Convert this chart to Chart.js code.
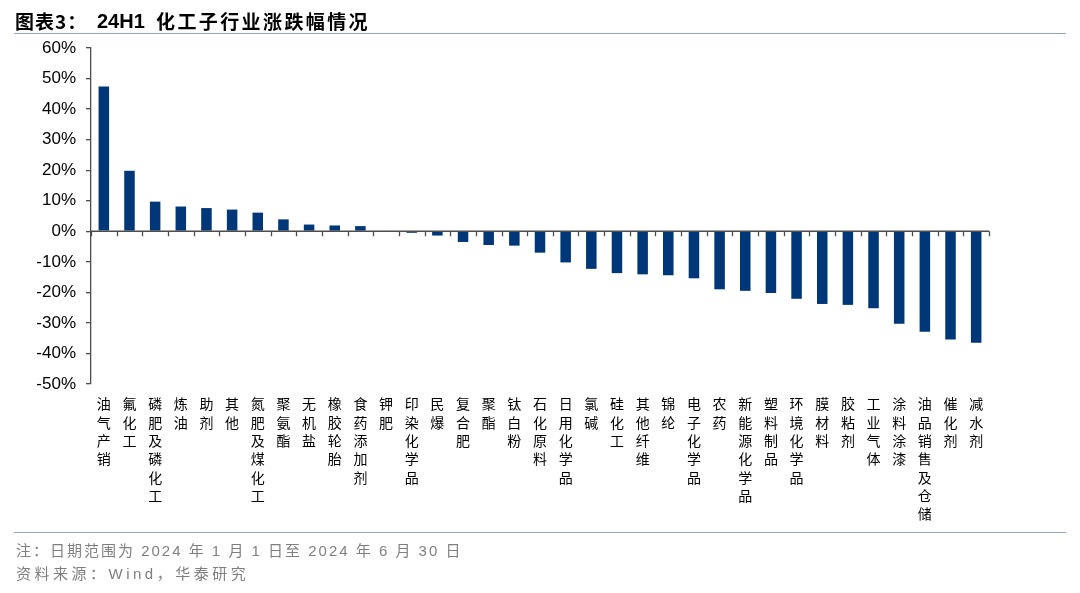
<!DOCTYPE html>
<html>
<head>
<meta charset="utf-8">
<script src="https://cdn.jsdelivr.net/npm/chart.js@4"></script>
<style>
  html, body { margin:0; padding:0; background:#fff; }
  #wrap { position:relative; width:1080px; height:593px; overflow:hidden; }
  #c { position:absolute; left:0; top:0; }
  .t { position:absolute; white-space:nowrap; font-family:"Liberation Sans","Noto Sans CJK SC",sans-serif; }
  .title { font-weight:bold; font-size:19px; color:#000; top:8px; line-height:26px; }
  .rule { position:absolute; left:14px; width:1052px; height:0; border-top:1.5px solid #8ea5c6; }
  .note { font-size:15px; color:#7f7f7f; left:16px; letter-spacing:2px; line-height:20px; }
</style>
</head>
<body>
<div id="wrap">
  <canvas id="c" width="1080" height="593"></canvas>
  <div class="t title" style="left:15px;font-family:'Noto Sans CJK SC',sans-serif;letter-spacing:1px;">图表3：</div>
  <div class="t title" style="left:97px;font-size:20px;">24H1</div>
  <div class="t title" style="left:156px;font-family:'Noto Sans CJK SC',sans-serif;letter-spacing:2.4px;">化工子行业涨跌幅情况</div>
  <div class="rule" style="top:33px;"></div>
  <div class="rule" style="top:532px;"></div>
  <div class="t note" style="top:541px;">注：日期范围为 2024 年 1 月 1 日至 2024 年 6 月 30 日</div>
  <div class="t note" style="top:564px;letter-spacing:3.5px;">资料来源：Wind，华泰研究</div>
</div>
<script>
const categories = ["油气产销","氟化工","磷肥及磷化工","炼油","助剂","其他","氮肥及煤化工","聚氨酯","无机盐","橡胶轮胎","食药添加剂","钾肥","印染化学品","民爆","复合肥","聚酯","钛白粉","石化原料","日用化学品","氯碱","硅化工","其他纤维","锦纶","电子化学品","农药","新能源化学品","塑料制品","环境化学品","膜材料","胶粘剂","工业气体","涂料涂漆","油品销售及仓储","催化剂","减水剂"];
const changePct = [47.4,19.8,9.7,8.1,7.6,7.1,6.1,3.9,2.2,1.9,1.7,0.2,-0.5,-1.4,-3.5,-4.5,-4.7,-7.0,-10.2,-12.3,-13.7,-14.1,-14.4,-15.4,-19.0,-19.5,-20.2,-22.1,-23.8,-24.1,-25.2,-30.3,-32.9,-35.4,-36.5];
const yMin = -50, yMax = 60, yStep = 10;

const axisColor = '#4d4d4d';
const zeroTicks = {
  id:'zeroTicks',
  afterDatasetsDraw(chart){
    const xs = chart.scales.x, ys = chart.scales.y;
    const y0 = ys.getPixelForValue(0);
    const n = categories.length;
    const ctx = chart.ctx;
    ctx.save();
    ctx.strokeStyle = axisColor;
    ctx.lineWidth = 1.3;
    ctx.beginPath();
    ctx.moveTo(xs.left, y0); ctx.lineTo(xs.right, y0);
    for (let i = 0; i <= n; i++) {
      const x = Math.round(xs.left + i * xs.width / n) + 0.5;
      ctx.moveTo(x, y0); ctx.lineTo(x, y0 + 5);
    }
    ctx.stroke();
    ctx.restore();
  }
};

new Chart(document.getElementById('c'), {
  type:'bar',
  data:{
    labels: categories.map(s => s.split('')),
    datasets:[{ data: changePct, backgroundColor:'#003778', borderWidth:0, barPercentage:0.41, categoryPercentage:1.0 }]
  },
  options:{
    responsive:false,
    animation:false,
    devicePixelRatio:1,
    layout:{ padding:{ top:48, right:91, left:0, bottom:0 } },
    plugins:{ legend:{display:false}, tooltip:{enabled:false} },
    scales:{
      x:{
        offset:true,
        grid:{ display:false, drawTicks:false },
        border:{ display:false },
        ticks:{ autoSkip:false, maxRotation:0, minRotation:0, padding:11, color:'#000',
          font:{ family:"'Noto Sans CJK SC', sans-serif", size:14, lineHeight:1.307 } },
        afterFit(s){ s.height = 209; }
      },
      y:{
        min:yMin, max:yMax,
        ticks:{ stepSize:yStep, padding:10, color:'#000',
          font:{ family:"'Liberation Sans', sans-serif", size:17 },
          callback:v => v + '%' },
        grid:{ drawOnChartArea:false, drawTicks:true, tickLength:5, tickColor:axisColor, lineWidth:1.3 },
        border:{ display:true, color:axisColor, width:1.3 },
        afterFit(s){ s.width = 91; }
      }
    }
  },
  plugins:[zeroTicks]
});
</script>
</body>
</html>
